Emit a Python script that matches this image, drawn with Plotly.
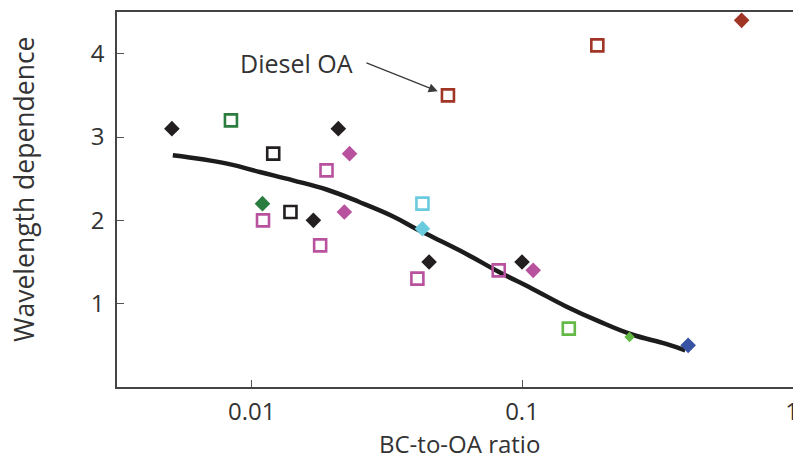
import numpy as np
import plotly.graph_objects as go

# Fitted trend of wavelength dependence vs BC-to-OA ratio
fit_ratio = [0.0051, 0.0081, 0.0107, 0.0142, 0.0189, 0.0250, 0.0332, 0.0405, 0.0467,
             0.0620, 0.0822, 0.109, 0.145, 0.192, 0.255, 0.339, 0.402]
fit_wd = [2.78, 2.68, 2.58, 2.48, 2.37, 2.22, 2.05, 1.90, 1.80,
          1.60, 1.38, 1.18, 0.97, 0.79, 0.63, 0.52, 0.44]

# Measurements, grouped by source (colour) and marker type
black_dia_x = [0.00506, 0.0209, 0.0169, 0.0453, 0.100]
black_dia_y = [3.1, 3.1, 2.0, 1.5, 1.5]
black_sq_x = [0.0120, 0.0139]
black_sq_y = [2.8, 2.1]
dkgreen_sq_x = [0.00837]
dkgreen_sq_y = [3.2]
dkgreen_dia_x = [0.01095]
dkgreen_dia_y = [2.2]
magenta_sq_x = [0.0189, 0.0110, 0.0179, 0.0410, 0.0820]
magenta_sq_y = [2.6, 2.0, 1.7, 1.3, 1.4]
magenta_dia_x = [0.0230, 0.0220, 0.110]
magenta_dia_y = [2.8, 2.1, 1.4]
cyan_sq_x = [0.0428]
cyan_sq_y = [2.2]
cyan_dia_x = [0.0428]
cyan_dia_y = [1.9]
brown_sq_x = [0.0532, 0.190]
brown_sq_y = [3.5, 4.1]
brown_dia_x = [0.650]
brown_dia_y = [4.4]
ltgreen_sq_x = [0.149]
ltgreen_sq_y = [0.7]
ltgreen_dia_x = [0.250]
ltgreen_dia_y = [0.6]
blue_dia_x = [0.412]
blue_dia_y = [0.5]

x_ticks = [0.01, 0.1, 1]
x_ticktext = ["0.01", "0.1", "1"]
y_ticks = [1, 2, 3, 4]

BLACK = "#231f20"
DKGREEN = "#2b7d3f"
MAGENTA = "#b8529f"
CYAN = "#6acbdf"
BROWN = "#a03526"
LTGREEN = "#63b946"
BLUE = "#3953a4"
TEXT = "#333333"
FONT = "Open Sans"

fig = go.Figure()

fig.add_trace(go.Scatter(
    x=fit_ratio, y=fit_wd, mode="lines",
    line=dict(color="#1c1c1c", width=4.5, shape="spline", smoothing=1.2),
    hoverinfo="skip", showlegend=False))


def squares(xs, ys, color):
    fig.add_trace(go.Scatter(
        x=xs, y=ys, mode="markers", showlegend=False,
        marker=dict(symbol="square-open", size=12, color=color,
                    line=dict(color=color, width=2.6))))


def diamonds(xs, ys, color, size=12):
    fig.add_trace(go.Scatter(
        x=xs, y=ys, mode="markers", showlegend=False,
        marker=dict(symbol="diamond", size=size, color=color,
                    line=dict(width=0))))


squares(black_sq_x, black_sq_y, BLACK)
squares(dkgreen_sq_x, dkgreen_sq_y, DKGREEN)
squares(magenta_sq_x, magenta_sq_y, MAGENTA)
squares(cyan_sq_x, cyan_sq_y, CYAN)
squares(brown_sq_x, brown_sq_y, BROWN)
squares(ltgreen_sq_x, ltgreen_sq_y, LTGREEN)

diamonds(black_dia_x, black_dia_y, BLACK)
diamonds(dkgreen_dia_x, dkgreen_dia_y, DKGREEN)
diamonds(magenta_dia_x, magenta_dia_y, MAGENTA)
diamonds(cyan_dia_x, cyan_dia_y, CYAN)
diamonds(brown_dia_x, brown_dia_y, BROWN)
diamonds(ltgreen_dia_x, ltgreen_dia_y, LTGREEN, size=8)
diamonds(blue_dia_x, blue_dia_y, BLUE)

# Label and arrow for the diesel organic aerosol point
fig.add_annotation(
    x=np.log10(brown_sq_x[0]), y=brown_sq_y[0], xref="x", yref="y",
    text="", showarrow=True, ax=-83, ay=-33,
    arrowhead=2, arrowsize=1.4, arrowwidth=1.3, arrowcolor="#3a3a3a",
    standoff=11)
fig.add_annotation(
    x=-1.834, y=3.885, xref="x", yref="y", text="Diesel OA",
    showarrow=False, font=dict(family=FONT, size=25, color=TEXT),
    xanchor="center", yanchor="middle")

# Axis titles
fig.add_annotation(
    x=-0.1376, y=0.528, xref="paper", yref="paper", text="Wavelength dependence",
    textangle=-90, showarrow=False, font=dict(family=FONT, size=26.5, color=TEXT),
    xanchor="center", yanchor="middle")
fig.add_annotation(
    x=0.507, y=-0.1515, xref="paper", yref="paper", text="BC-to-OA ratio",
    showarrow=False, font=dict(family=FONT, size=24, color=TEXT),
    xanchor="center", yanchor="middle")

axis_common = dict(
    showgrid=False, zeroline=False, showline=True, linecolor="#444444",
    linewidth=1.5, ticks="inside", ticklen=7, tickwidth=1.2, tickcolor="#555555",
    tickfont=dict(family=FONT, size=24, color=TEXT), automargin=False)

fig.update_xaxes(type="log", range=[-2.499, 0.003], tickvals=x_ticks,
                 ticktext=x_ticktext, mirror=True, ticklabelstandoff=2,
                 ticklabeloverflow="allow", **axis_common)
fig.update_yaxes(range=[0, 4.5], tickvals=y_ticks, ticklabelstandoff=6,
                 **axis_common)

fig.update_layout(
    width=793, height=460,
    margin=dict(l=117, r=0, t=12, b=73, autoexpand=False),
    paper_bgcolor="white", plot_bgcolor="white",
    font=dict(family=FONT, color=TEXT),
    showlegend=False)

fig.write_html("out.html")
